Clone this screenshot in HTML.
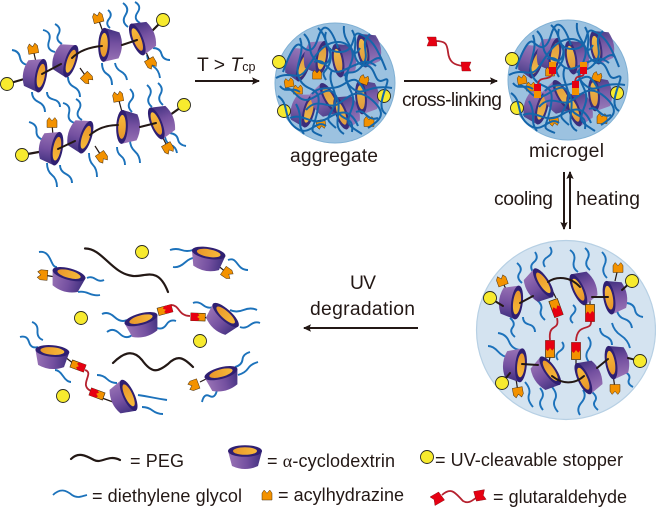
<!DOCTYPE html>
<html><head><meta charset="utf-8"><style>
html,body{margin:0;padding:0;background:#fff;width:656px;height:507px;overflow:hidden}
svg{display:block;filter:blur(.3px)}
text{font-family:"Liberation Sans",sans-serif;font-size:18px;fill:#231815}
text.b{font-size:19.300px}
</style></head><body>
<svg width="656" height="507" viewBox="0 0 656 507" xmlns="http://www.w3.org/2000/svg">
<defs>
<linearGradient id="pg" x1="0" x2="1" y1="0" y2="0"><stop offset="0" stop-color="#9a74b6"/><stop offset=".55" stop-color="#7450a0"/><stop offset="1" stop-color="#40307f"/></linearGradient>
<linearGradient id="og" x1="0" x2="1" y1="0" y2="0"><stop offset="0" stop-color="#e8962a"/><stop offset="1" stop-color="#f8bb3a"/></linearGradient>
<marker id="ah" markerWidth="9" markerHeight="9" refX="7" refY="4.500" orient="auto" markerUnits="userSpaceOnUse"><path d="M0,.8 L8,4.500 L0,8.200 L1.500,4.500Z" fill="#231815"/></marker>
<g id="c"><path d="M-17,-4 L-13,11 Q0,17 13,11 L17,-4Z" fill="url(#pg)"/><ellipse cy="-4" rx="17" ry="5.800" fill="#2f1f72"/><ellipse cy="-4" rx="12" ry="3.800" fill="url(#og)"/></g>
<circle id="y" r="6.500" fill="#f7ea2e" stroke="#2a2a20" stroke-width=".9"/>
<path id="h" d="M-5,4.500 L-5,-2.500 L-2.800,-5.500 L0,-2.200 L2.800,-5.500 L5,-2.500 L5,4.500Z" fill="#f39200" stroke="#4a3010" stroke-width=".5"/>
<g id="lk"><rect x="-4.500" y="-8.500" width="9" height="17" fill="#f39200" stroke="#3a2a10" stroke-width=".7"/><path d="M-4.500,-8.500 H4.500 V-1 L2.200,1.600 L0,-1 L-2.200,2 L-4.500,0Z" fill="#e60012"/></g>
<path id="r" d="M-5,5 L-3,0 L-5,-4 L4,-4 L5,5Z" fill="#e60012" stroke="#8a1018" stroke-width=".4"/>

<g id="tangleBase">
<circle cx="335" cy="83" r="60" fill="#9cc2e0" stroke="#7fb0d4" stroke-width="1"/>
<g opacity=".9">
<use href="#c" transform="translate(300,64) rotate(110)"/>
<use href="#c" transform="translate(318,57) rotate(100)"/>
<use href="#c" transform="translate(342,60) rotate(-100)"/>
<use href="#c" transform="translate(367,50) rotate(-100)"/>
<use href="#c" transform="translate(305,110) rotate(105)"/>
<use href="#c" transform="translate(326,100) rotate(60)"/>
<use href="#c" transform="translate(345,112) rotate(-110)"/>
<use href="#c" transform="translate(365,97) rotate(-95)"/>
</g>
<use href="#h" transform="translate(317,75) scale(.9)"/>
<use href="#h" transform="translate(289,83) scale(.9) rotate(-10)"/>
<use href="#h" transform="translate(298,90) scale(.9)"/>
<use href="#h" transform="translate(321,124) scale(.9) rotate(170)"/>
<use href="#h" transform="translate(369,122)"/>
<use href="#h" transform="translate(364,80) scale(.9) rotate(20)"/>
<use href="#y" transform="translate(279,62)"/>
<use href="#y" transform="translate(284,111)"/>
<use href="#y" transform="translate(384,96)"/>
<g fill="none" stroke="#1466ab" stroke-width="2">
<path d="M283,72 C290,52 296,42 300,45 S312,58 318,38 S332,30 338,48"/>
<path d="M276,78 C290,70 298,82 306,70 S322,42 338,42 S352,62 360,48"/>
<path d="M318,28 C330,38 322,52 340,52 S350,30 360,34 S376,44 386,70"/>
<path d="M344,26 C342,42 356,46 352,60 S340,78 352,88 S366,84 392,88"/>
<path d="M300,38 C306,56 292,66 300,80 S322,84 318,108 S306,130 322,136"/>
<path d="M284,90 C292,84 296,100 306,100 S328,82 336,96 S330,126 344,134"/>
<path d="M278,96 C290,104 282,118 296,128 S316,118 326,126"/>
<path d="M332,70 C326,84 340,92 334,106 S324,118 336,128"/>
<path d="M348,72 C342,86 358,92 352,108 S346,124 362,134"/>
<path d="M362,66 C378,62 372,86 384,80 S372,106 386,114"/>
<path d="M306,110 C318,96 328,110 338,104 S356,86 372,100 S380,120 368,128"/>
<path d="M290,118 C304,112 312,128 328,118 S352,112 358,126"/>
<path d="M314,62 C328,56 326,78 344,70 S366,58 376,66"/>
<path d="M326,32 C322,44 334,50 330,62 S320,70 326,80"/>
<path d="M370,34 C358,44 372,54 362,66 S348,68 344,76"/>
<path d="M296,104 C304,118 296,124 304,134"/>
<path d="M356,112 C366,108 366,122 378,118"/>
<path d="M312,94 C320,84 332,92 344,84 S358,80 364,90"/>
<path d="M338,112 C344,122 354,116 352,132"/>
<path d="M280,86 C286,94 292,86 300,92"/>
<path d="M304,34 C314,44 306,52 316,60 S332,62 330,48"/>
<path d="M352,30 C360,44 350,52 358,62 S376,52 382,60"/>
</g>
</g>
</defs>

<!-- top-left polymers -->
<g stroke="#1c72bb" stroke-width="1.900" fill="none">
<path d="M12,50 q7,1 8,7.500 t8,7.500"/><path d="M32,92 q0,7 6.500,10 t6.500,10"/><path d="M47,92 q0,6 6.500,7.500 t6.500,7.500"/>
<path d="M43,30 q9,2 6,11 t6,11"/><path d="M55,24 q7,4 3.500,10 t3.500,10"/><path d="M68,77 q0,7 6,10 t6,10"/>
<path d="M108,10 q5,4 1,9 t1,9"/><path d="M102,63 q0,8 5,11 t5,11"/><path d="M115,63 q1,6 6,8.500 t6,8.500"/>
<path d="M123,3 q7,5 2.500,12 t2.500,12"/><path d="M135,2 q7,4 2.500,10.500 t2.500,10.500"/><path d="M153,48 q7,0 8.500,6 t8.500,6"/><path d="M147,55 q1,8 6.500,11.500 t6.500,11.500"/>
<path d="M29,122 q8,2 7.500,9 t7.500,9"/><path d="M47,163 q0,8 5,12 t5,12"/><path d="M60,165 q0,6 6,9 t6,9"/>
<path d="M63,103 q8,2 6,10 t6,10"/><path d="M76,99 q7,4 3,10.500 t3,10.500"/><path d="M89,153 q0,8 4,12 t4,12"/>
<path d="M130,89 q6,6 1,11.500 t1,11.500"/><path d="M117,147 q0,6 4,9 t4,9"/><path d="M130,140 q0,7 5,11.500 t5,11.500"/>
<path d="M147,85 q6,5 2.500,11 t2.500,11"/><path d="M158,83 q6,5 2.500,11 t2.500,11"/><path d="M170,133 q7,1 8,6.500 t8,6.500"/><path d="M165,137 q1,6 6,8 t6,8"/>
</g>
<g stroke="#231815" stroke-width="2.200" fill="none" stroke-linecap="round">
<path d="M7,84 L38,75"/><path d="M22,155 L50,150"/><path d="M150,33 L163,20"/><path d="M170,115 L184,105"/>
</g>
<g stroke="#231815" stroke-width="1.200" fill="none">
<path d="M33,49 L36,62"/><path d="M87,78 L80,68"/><path d="M98,18 L103,32"/><path d="M151,63 L146,52"/>
<path d="M52,123 L53,136"/><path d="M102,157 L95,146"/><path d="M118,97 L122,112"/><path d="M168,148 L162,136"/>
</g>
<use href="#h" transform="translate(33,49) rotate(-10)"/>
<use href="#h" transform="translate(87,78) rotate(135)"/>
<use href="#h" transform="translate(98,18) rotate(-15)"/>
<use href="#h" transform="translate(151,63) rotate(150)"/>
<use href="#h" transform="translate(52,123)"/>
<use href="#h" transform="translate(102,157) rotate(145)"/>
<use href="#h" transform="translate(118,97) rotate(-10)"/>
<use href="#h" transform="translate(168,148) rotate(150)"/>
<use href="#c" transform="translate(37,75) rotate(100)"/>
<use href="#c" transform="translate(67,60) rotate(108)"/>
<use href="#c" transform="translate(108,45) rotate(-88)"/>
<use href="#c" transform="translate(141,38) rotate(-112)"/>
<use href="#c" transform="translate(53,148) rotate(100)"/>
<use href="#c" transform="translate(82,136) rotate(108)"/>
<use href="#c" transform="translate(126,127) rotate(-88)"/>
<use href="#c" transform="translate(160,122) rotate(-112)"/>
<g stroke="#231815" stroke-width="2" fill="none" stroke-linecap="round">
<path d="M42,74 L61,64"/><path d="M72,58 C80,50 90,47 102,46"/><path d="M122,45 L137,40"/>
<path d="M58,149 L75,141"/><path d="M90,135 C98,128 108,125 118,125"/><path d="M140,127 L156,123"/>
</g>
<use href="#y" transform="translate(7,84)"/><use href="#y" transform="translate(163,20)"/><use href="#y" transform="translate(22,155)"/><use href="#y" transform="translate(184,105)"/>

<!-- arrows -->
<g stroke="#231815" stroke-width="2" fill="none" marker-end="url(#ah)">
<path d="M195,81 L259,81"/><path d="M404,81 L497,81"/>
<path d="M564,172 L564,229"/><path d="M570,229 L570,172"/><path d="M418,328 L304,328"/>
</g>

<!-- aggregate -->
<use href="#tangleBase"/>

<!-- linker -->
<path d="M435,41 C446,41 447,44 448,52 C449,62 454,65 463,66" fill="none" stroke="#b5212e" stroke-width="1.800"/>
<use href="#r" transform="translate(432,41)"/>
<use href="#r" transform="translate(466,67) rotate(180)"/>

<!-- microgel -->
<use href="#tangleBase" transform="translate(233,-3)"/>
<g fill="none" stroke="#b5212e" stroke-width="1.800">
<path d="M538,85 C538,75 550,82 553,73"/><path d="M575,82 C576,72 584,80 584,72"/>
</g>
<rect x="534" y="84" width="7" height="7" fill="#e60012"/><rect x="534" y="91" width="7" height="7" fill="#f39200"/>
<rect x="549" y="67" width="7" height="7" fill="#e60012"/><rect x="549" y="62" width="7" height="5" fill="#f39200"/>
<rect x="572" y="81" width="7" height="7" fill="#e60012"/><rect x="572" y="88" width="7" height="7" fill="#f39200"/>
<rect x="580" y="67" width="7" height="7" fill="#e60012"/><rect x="580" y="62" width="7" height="5" fill="#f39200"/>

<!-- swollen microgel -->
<circle cx="566" cy="330" r="89.500" fill="#d4e3f0" stroke="#b7d0e4" stroke-width="1.200"/>
<g stroke="#1c72bb" stroke-width="1.900" fill="none">
<path d="M517,263 q6,5 2.500,10 t2.500,10"/><path d="M535,252 q4,6 -1,10 t-1,10"/><path d="M550,247 q4,6 -2.500,10 t-2.500,10"/>
<path d="M570,250 q6,4 4,11 t4,11"/><path d="M585,248 q6,5 2.500,11 t2.500,11"/><path d="M602,252 q6,6 2.500,13 t2.500,13"/>
<path d="M510,318 q6,5 2.500,9.500 t2.500,9.500"/><path d="M523,317 q0,6 6,7.500 t6,7.500"/><path d="M537,300 q6,5 4,10 t4,10"/>
<path d="M573,305 q5,4 0,9 t0,9"/><path d="M627,303 q7,1 8,7 t8,7"/><path d="M617,310 q1,7 7.500,9 t7.500,9"/>
<path d="M600,328 q0,6 6,8.500 t6,8.500"/><path d="M612,323 q2,8 9,12.500 t9,12.500"/><path d="M498,333 q8,1 11,8.500 t11,8.500"/>
<path d="M488,346 q5,0 10,5.500 t10,5.500"/><path d="M562,342 q4,5 -2,9 t-2,9"/><path d="M588,337 q5,6 .5,12.500 t.5,12.500"/>
<path d="M525,382 q6,7 4,12.500 t4,12.500"/><path d="M540,388 q5,6 1.500,11 t1.500,11"/><path d="M552,387 q6,7 3,12.500 t3,12.500"/>
<path d="M583,390 q4,6 -1.500,12.500 t-1.500,12.500"/><path d="M592,392 q6,5 3,9 t3,9"/><path d="M625,372 q6,3 4,7.500 t4,7.500"/>
</g>
<g stroke="#231815" stroke-width="1.200" fill="none">
<path d="M502,281 L507,291"/><path d="M618,268 L615,281"/><path d="M518,392 L516,379"/><path d="M615,389 L613,374"/>
<path d="M556,298 L553,292"/><path d="M590,304 L590,298"/><path d="M550,357 L549,362"/><path d="M576,360 L576,368"/>
</g>
<use href="#h" transform="translate(502,281) rotate(-20)"/>
<use href="#h" transform="translate(618,268)"/>
<use href="#h" transform="translate(518,392) rotate(170)"/>
<use href="#h" transform="translate(615,389) rotate(180)"/>
<use href="#c" transform="translate(513,302) rotate(97)"/>
<use href="#c" transform="translate(540,285) rotate(57)"/>
<use href="#c" transform="translate(582,288) rotate(-115)"/>
<use href="#c" transform="translate(613,297) rotate(-100)"/>
<use href="#c" transform="translate(517,365) rotate(95)"/>
<use href="#c" transform="translate(547,373) rotate(55)"/>
<use href="#c" transform="translate(587,377) rotate(-115)"/>
<use href="#c" transform="translate(615,362) rotate(-100)"/>
<path d="M557,318 C560,332 548,322 550,340" fill="none" stroke="#b5212e" stroke-width="1.800"/>
<path d="M591,321 C592,332 577,322 576,341" fill="none" stroke="#b5212e" stroke-width="1.800"/>
<use href="#lk" transform="translate(556,308) rotate(160)"/>
<use href="#lk" transform="translate(590,313) rotate(180)"/>
<use href="#lk" transform="translate(550,349)"/>
<use href="#lk" transform="translate(576,351)"/>
<g stroke="#231815" stroke-width="2" fill="none" stroke-linecap="round">
<path d="M490,298 L503,306"/><path d="M520,303 L533,296"/><path d="M548,282 C556,276 570,276 580,287"/><path d="M592,297 L608,297"/><path d="M622,290 L632,281"/>
<path d="M502,383 L510,373"/><path d="M522,364 L538,365"/><path d="M552,376 C562,384 574,385 584,376"/><path d="M597,368 L608,359"/><path d="M628,358 L640,361"/>
</g>
<use href="#y" transform="translate(490,298)"/><use href="#y" transform="translate(632,281)"/><use href="#y" transform="translate(502,383)"/><use href="#y" transform="translate(640,361)"/>

<!-- degraded pieces -->
<g stroke="#1c72bb" stroke-width="1.900" fill="none">
<path d="M39,252 C52,250 50,268 57,267"/><path d="M87,278 q4,-2 8.500,1 t8.500,1"/><path d="M78,292 q5,-1 11,1.500 t11,1.500"/>
<path d="M170,250 q6,-2 11.500,0 t11.500,0"/><path d="M173,267 q6,1 12,-4.500 t12,-4.500"/><path d="M228,260 C238,256 236,270 248,270"/>
<path d="M102,314 q6,-3 12.500,3 t12.500,3"/><path d="M107,332 q6,-5 12.500,1.500 t12.500,1.500"/><path d="M157,328 q6,2 9.500,-3.500 t9.500,-3.500"/>
<path d="M193,303 q5,-2 10,2 t10,2"/><path d="M230,310 q6,3 13.500,0 t13.500,0"/><path d="M240,327 q5,2 10,-2 t10,-2"/>
<path d="M32,322 q6,2 5.500,9 t5.500,9"/><path d="M20,337 q7,-2 9,5 t9,5"/><path d="M55,370 q4,0 8,6 t8,6"/>
<path d="M97,375 q6,0 10,4 t10,4"/><path d="M138,395 q7,1 14.500,2.500 t14.500,2.500"/><path d="M142,407 q6,0 10.500,3.500 t10.500,3.500"/>
<path d="M235,367 q7,-2 7.500,-7.500 t7.500,-7.500"/><path d="M238,375 q7,-2 10,-6.500 t10,-6.500"/><path d="M202,402 q2,-9 7.500,-6 t7.500,-6"/>
</g>
<g stroke="#231815" stroke-width="1.200" fill="none">
<path d="M227,273 L216,264"/><path d="M43,275 L56,277"/><path d="M200,382 L210,377"/><path d="M155,313 L148,316"/><path d="M203,317 L212,319"/><path d="M65,357 L74,364"/><path d="M102,398 L113,402"/>
</g>
<use href="#h" transform="translate(227,273) rotate(125)"/>
<use href="#h" transform="translate(43,275) rotate(-85)"/>
<use href="#h" transform="translate(194,385) rotate(-110)"/>
<use href="#c" transform="translate(68,278) rotate(15)"/>
<use href="#c" transform="translate(208,257) rotate(10)"/>
<use href="#c" transform="translate(142,323) rotate(-15)"/>
<use href="#c" transform="translate(223,318) rotate(42)"/>
<use href="#c" transform="translate(52,355) rotate(5)"/>
<use href="#c" transform="translate(125,397) rotate(65)"/>
<use href="#c" transform="translate(222,377) rotate(-15)"/>
<path d="M171,305 C180,305 178,316 190,316" fill="none" stroke="#b5212e" stroke-width="1.800"/>
<path d="M85,370 C95,373 78,385 91,391" fill="none" stroke="#b5212e" stroke-width="1.800"/>
<use href="#lk" transform="translate(165,310) rotate(75) scale(.85)"/>
<use href="#lk" transform="translate(198,317) rotate(-88) scale(.85)"/>
<use href="#lk" transform="translate(78,366) rotate(110) scale(.85)"/>
<use href="#lk" transform="translate(97,394) rotate(-70) scale(.85)"/>
<g stroke="#231815" stroke-width="2.200" fill="none" stroke-linecap="round">
<path d="M85,248.500 C102,248 112,274 133,276 C146,277 158,266 168,292"/>
<path d="M113,363 C122,354 132,348 142,360 C152,374 158,372 168,364 C178,354 184,358 193,367"/>
</g>
<use href="#y" transform="translate(142,252)"/><use href="#y" transform="translate(81,318)"/><use href="#y" transform="translate(200,341)"/><use href="#y" transform="translate(63,396)"/>

<!-- legend -->
<path d="M71,459 C78,452 85,455 94,460 C102,464 108,454 120,460" fill="none" stroke="#231815" stroke-width="2.200" stroke-linecap="round"/>
<use href="#c" transform="translate(245,455)"/>
<use href="#y" transform="translate(427,457)"/>
<path d="M53,495 C60,488 66,490 72,495 C78,499 82,496 87,495" fill="none" stroke="#1c72bb" stroke-width="1.800"/>
<use href="#h" transform="translate(267,495.500)"/>
<path d="M442,495 C452,486 456,494 463,501 C470,505 474,498 478,497" fill="none" stroke="#b5212e" stroke-width="1.800"/>
<use href="#r" transform="translate(437,498) rotate(-30) scale(1.100)"/>
<use href="#r" transform="translate(480,496) rotate(170) scale(1.100)"/>

<!-- labels -->
<text x="197" y="71" class="b">T &gt; <tspan font-style="italic">T</tspan><tspan font-size="12.500">cp</tspan></text>
<text x="402" y="106" class="b" textLength="100" lengthAdjust="spacing">cross-linking</text>
<text x="290" y="162" class="b" textLength="88" lengthAdjust="spacing">aggregate</text>
<text x="529" y="157" class="b" textLength="75" lengthAdjust="spacing">microgel</text>
<text x="494" y="205" class="b" textLength="59" lengthAdjust="spacing">cooling</text>
<text x="576" y="205" class="b" textLength="64" lengthAdjust="spacing">heating</text>
<text x="350" y="289" class="b" textLength="26" lengthAdjust="spacing">UV</text>
<text x="310" y="315" class="b" textLength="105" lengthAdjust="spacing">degradation</text>
<text x="130" y="467" textLength="54" lengthAdjust="spacing">= PEG</text>
<text x="267" y="467" textLength="128" lengthAdjust="spacing">= <tspan font-family="'Liberation Serif',serif">α</tspan>-cyclodextrin</text>
<text x="435" y="466" textLength="188" lengthAdjust="spacing">= UV-cleavable stopper</text>
<text x="92" y="502" textLength="150" lengthAdjust="spacing">= diethylene glycol</text>
<text x="278" y="501" textLength="126" lengthAdjust="spacing">= acylhydrazine</text>
<text x="493" y="503" textLength="134" lengthAdjust="spacing">= glutaraldehyde</text>
</svg>
</body></html>
